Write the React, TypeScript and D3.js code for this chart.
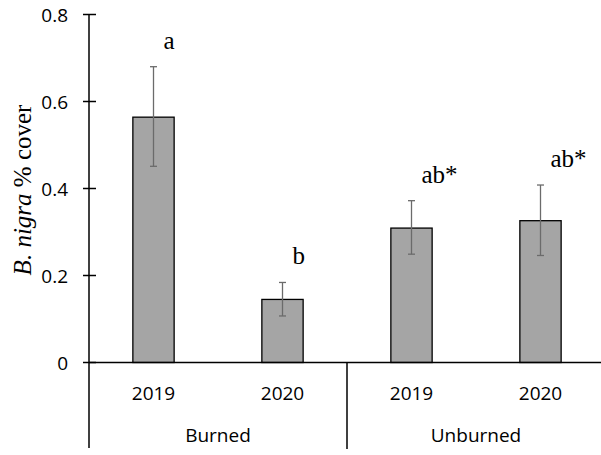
import React from 'react'
import * as d3 from 'd3'

const years = ['2019', '2020', '2019', '2020']
const groups = ['Burned', 'Unburned']
const cover = [0.564, 0.145, 0.309, 0.326]
const errLow = [0.451, 0.107, 0.249, 0.246]
const errHigh = [0.68, 0.184, 0.372, 0.408]
const letters = ['a', 'b', 'ab*', 'ab*']
const yTicks = [0, 0.2, 0.4, 0.6, 0.8]

function App() {
  const width = 601
  const height = 455
  const left = 89
  const bottom = 362.5

  const x = d3.scaleBand<number>()
    .domain(d3.range(cover.length))
    .range([left, left + 129 * 4])
    .paddingInner(0.68)
    .paddingOuter(0.34)

  const y = d3.scaleLinear().domain([0, 0.8]).range([bottom, 14.5])

  const band = 129
  const labelFont = "'Open Sans', sans-serif"
  const serif = "'Liberation Serif', 'Times New Roman', serif"

  return (
    <svg width={width} height={height} style={{ position: 'absolute', left: 0, top: 0 }}>
      <rect width={width} height={height} fill="white" />

      {cover.map((v, i) => {
        const bx = x(i)!
        const cx = bx + x.bandwidth() / 2
        return (
          <g key={i}>
            <rect x={bx} y={y(v)} width={x.bandwidth()} height={bottom - y(v)}
              fill="#a5a5a5" stroke="black" strokeWidth={1.3} />
            <line x1={cx} x2={cx} y1={y(errHigh[i])} y2={y(errLow[i])} stroke="#6b6b6b" strokeWidth={1.3} />
            <line x1={cx - 3.5} x2={cx + 3.5} y1={y(errHigh[i])} y2={y(errHigh[i])} stroke="#6b6b6b" strokeWidth={1.3} />
            <line x1={cx - 3.5} x2={cx + 3.5} y1={y(errLow[i])} y2={y(errLow[i])} stroke="#6b6b6b" strokeWidth={1.3} />
            <text x={cx + 10} y={y(errHigh[i]) - 18} fontFamily={serif} fontSize={25} fill="black">{letters[i]}</text>
            <text x={left + band * i + band / 2} y={400} textAnchor="middle" fontFamily={labelFont} fontSize={19} fill="black">{years[i]}</text>
          </g>
        )
      })}

      {groups.map((g, i) => (
        <text key={g} x={left + band * 2 * i + band} y={442} textAnchor="middle" fontFamily={labelFont} fontSize={19} fill="black">{g}</text>
      ))}

      {/* axes */}
      <line x1={left} x2={left} y1={y(0.8)} y2={448} stroke="black" strokeWidth={1.5} />
      <line x1={left} x2={width} y1={bottom} y2={bottom} stroke="black" strokeWidth={1.5} />
      <line x1={left + band * 2} x2={left + band * 2} y1={bottom} y2={449} stroke="black" strokeWidth={1.5} />
      {yTicks.map(t => (
        <g key={t}>
          <line x1={left - 6} x2={left + 7} y1={y(t)} y2={y(t)} stroke="black" strokeWidth={1.5} />
          <text x={68} y={y(t) + 7} textAnchor="end" fontFamily={labelFont} fontSize={19} fill="black">{t === 0 ? '0' : t.toFixed(1)}</text>
        </g>
      ))}

      <text transform={`translate(31,190) rotate(-90)`} textAnchor="middle" fontFamily={serif} fontSize={25} fill="black">
        <tspan fontStyle="italic">B. nigra</tspan> % cover
      </text>
    </svg>
  )
}

export default App
